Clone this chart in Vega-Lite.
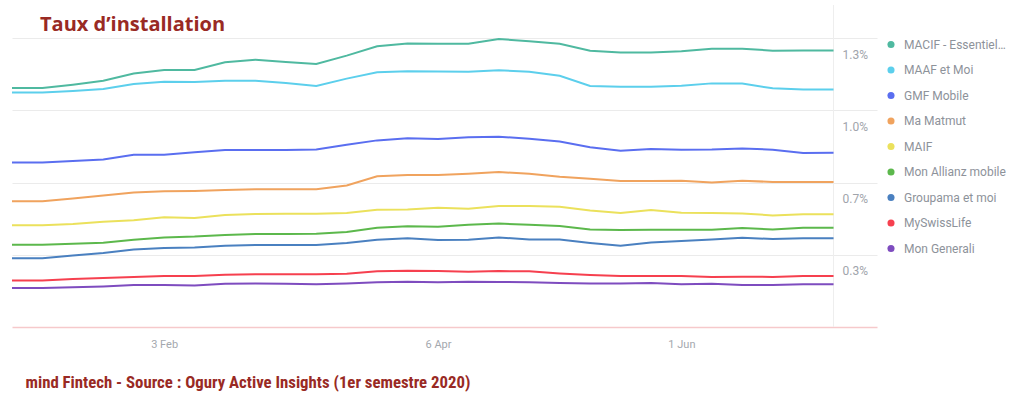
{
  "$schema": "https://vega.github.io/schema/vega-lite/v6.json",
  "width": 865,
  "height": 322,
  "autosize": {"type": "none"},
  "padding": {"left": 12, "top": 5, "right": 147, "bottom": 70},
  "background": "white",
  "config": {"view": {"stroke": null}},
  "title": {
    "text": "Taux d’installation",
    "anchor": "start",
    "frame": "group",
    "orient": "top",
    "font": "Open Sans",
    "fontWeight": "bold",
    "fontSize": 20,
    "color": "#992a24",
    "baseline": "alphabetic",
    "offset": 0,
    "dx": 28,
    "dy": 46
  },
  "data": {
    "values": [
      {"date": "2019-12-30", "MACIF - Essentiel & moi": 1.103, "MAAF et Moi": 1.082, "GMF Mobile": 0.759, "Ma Matmut": 0.580, "MAIF": 0.469, "Mon Allianz mobile": 0.380, "Groupama et moi": 0.317, "MySwissLife": 0.215, "Mon Generali": 0.180},
      {"date": "2020-01-06", "MACIF - Essentiel & moi": 1.103, "MAAF et Moi": 1.082, "GMF Mobile": 0.759, "Ma Matmut": 0.580, "MAIF": 0.469, "Mon Allianz mobile": 0.380, "Groupama et moi": 0.317, "MySwissLife": 0.215, "Mon Generali": 0.180},
      {"date": "2020-01-13", "MACIF - Essentiel & moi": 1.118, "MAAF et Moi": 1.089, "GMF Mobile": 0.766, "Ma Matmut": 0.593, "MAIF": 0.475, "Mon Allianz mobile": 0.384, "Groupama et moi": 0.330, "MySwissLife": 0.222, "Mon Generali": 0.183},
      {"date": "2020-01-20", "MACIF - Essentiel & moi": 1.136, "MAAF et Moi": 1.098, "GMF Mobile": 0.773, "Ma Matmut": 0.607, "MAIF": 0.486, "Mon Allianz mobile": 0.389, "Groupama et moi": 0.341, "MySwissLife": 0.226, "Mon Generali": 0.187},
      {"date": "2020-01-27", "MACIF - Essentiel & moi": 1.170, "MAAF et Moi": 1.121, "GMF Mobile": 0.795, "Ma Matmut": 0.621, "MAIF": 0.492, "Mon Allianz mobile": 0.403, "Groupama et moi": 0.357, "MySwissLife": 0.231, "Mon Generali": 0.194},
      {"date": "2020-02-03", "MACIF - Essentiel & moi": 1.186, "MAAF et Moi": 1.132, "GMF Mobile": 0.795, "Ma Matmut": 0.626, "MAIF": 0.506, "Mon Allianz mobile": 0.413, "Groupama et moi": 0.365, "MySwissLife": 0.235, "Mon Generali": 0.194},
      {"date": "2020-02-10", "MACIF - Essentiel & moi": 1.186, "MAAF et Moi": 1.130, "GMF Mobile": 0.806, "Ma Matmut": 0.628, "MAIF": 0.503, "Mon Allianz mobile": 0.417, "Groupama et moi": 0.367, "MySwissLife": 0.235, "Mon Generali": 0.191},
      {"date": "2020-02-17", "MACIF - Essentiel & moi": 1.221, "MAAF et Moi": 1.136, "GMF Mobile": 0.817, "Ma Matmut": 0.632, "MAIF": 0.517, "Mon Allianz mobile": 0.425, "Groupama et moi": 0.375, "MySwissLife": 0.241, "Mon Generali": 0.200},
      {"date": "2020-02-24", "MACIF - Essentiel & moi": 1.233, "MAAF et Moi": 1.136, "GMF Mobile": 0.817, "Ma Matmut": 0.635, "MAIF": 0.521, "Mon Allianz mobile": 0.429, "Groupama et moi": 0.378, "MySwissLife": 0.243, "Mon Generali": 0.201},
      {"date": "2020-03-02", "MACIF - Essentiel & moi": 1.223, "MAAF et Moi": 1.126, "GMF Mobile": 0.817, "Ma Matmut": 0.635, "MAIF": 0.523, "Mon Allianz mobile": 0.429, "Groupama et moi": 0.378, "MySwissLife": 0.243, "Mon Generali": 0.200},
      {"date": "2020-03-09", "MACIF - Essentiel & moi": 1.213, "MAAF et Moi": 1.112, "GMF Mobile": 0.819, "Ma Matmut": 0.635, "MAIF": 0.523, "Mon Allianz mobile": 0.430, "Groupama et moi": 0.378, "MySwissLife": 0.243, "Mon Generali": 0.197},
      {"date": "2020-03-16", "MACIF - Essentiel & moi": 1.252, "MAAF et Moi": 1.146, "GMF Mobile": 0.841, "Ma Matmut": 0.653, "MAIF": 0.526, "Mon Allianz mobile": 0.438, "Groupama et moi": 0.388, "MySwissLife": 0.246, "Mon Generali": 0.201},
      {"date": "2020-03-23", "MACIF - Essentiel & moi": 1.295, "MAAF et Moi": 1.175, "GMF Mobile": 0.861, "Ma Matmut": 0.695, "MAIF": 0.541, "Mon Allianz mobile": 0.458, "Groupama et moi": 0.403, "MySwissLife": 0.257, "Mon Generali": 0.206},
      {"date": "2020-03-30", "MACIF - Essentiel & moi": 1.308, "MAAF et Moi": 1.180, "GMF Mobile": 0.871, "Ma Matmut": 0.701, "MAIF": 0.542, "Mon Allianz mobile": 0.465, "Groupama et moi": 0.410, "MySwissLife": 0.260, "Mon Generali": 0.209},
      {"date": "2020-04-06", "MACIF - Essentiel & moi": 1.307, "MAAF et Moi": 1.179, "GMF Mobile": 0.867, "Ma Matmut": 0.701, "MAIF": 0.550, "Mon Allianz mobile": 0.463, "Groupama et moi": 0.401, "MySwissLife": 0.258, "Mon Generali": 0.206},
      {"date": "2020-04-13", "MACIF - Essentiel & moi": 1.307, "MAAF et Moi": 1.178, "GMF Mobile": 0.875, "Ma Matmut": 0.707, "MAIF": 0.546, "Mon Allianz mobile": 0.472, "Groupama et moi": 0.403, "MySwissLife": 0.255, "Mon Generali": 0.209},
      {"date": "2020-04-20", "MACIF - Essentiel & moi": 1.329, "MAAF et Moi": 1.184, "GMF Mobile": 0.878, "Ma Matmut": 0.715, "MAIF": 0.558, "Mon Allianz mobile": 0.477, "Groupama et moi": 0.413, "MySwissLife": 0.258, "Mon Generali": 0.208},
      {"date": "2020-04-27", "MACIF - Essentiel & moi": 1.318, "MAAF et Moi": 1.178, "GMF Mobile": 0.869, "Ma Matmut": 0.707, "MAIF": 0.558, "Mon Allianz mobile": 0.472, "Groupama et moi": 0.404, "MySwissLife": 0.257, "Mon Generali": 0.206},
      {"date": "2020-05-04", "MACIF - Essentiel & moi": 1.307, "MAAF et Moi": 1.159, "GMF Mobile": 0.856, "Ma Matmut": 0.693, "MAIF": 0.555, "Mon Allianz mobile": 0.466, "Groupama et moi": 0.404, "MySwissLife": 0.247, "Mon Generali": 0.203},
      {"date": "2020-05-11", "MACIF - Essentiel & moi": 1.275, "MAAF et Moi": 1.112, "GMF Mobile": 0.829, "Ma Matmut": 0.684, "MAIF": 0.538, "Mon Allianz mobile": 0.450, "Groupama et moi": 0.388, "MySwissLife": 0.240, "Mon Generali": 0.201},
      {"date": "2020-05-18", "MACIF - Essentiel & moi": 1.266, "MAAF et Moi": 1.109, "GMF Mobile": 0.813, "Ma Matmut": 0.674, "MAIF": 0.526, "Mon Allianz mobile": 0.448, "Groupama et moi": 0.375, "MySwissLife": 0.235, "Mon Generali": 0.201},
      {"date": "2020-05-25", "MACIF - Essentiel & moi": 1.266, "MAAF et Moi": 1.109, "GMF Mobile": 0.821, "Ma Matmut": 0.674, "MAIF": 0.540, "Mon Allianz mobile": 0.449, "Groupama et moi": 0.390, "MySwissLife": 0.235, "Mon Generali": 0.203},
      {"date": "2020-06-01", "MACIF - Essentiel & moi": 1.272, "MAAF et Moi": 1.113, "GMF Mobile": 0.818, "Ma Matmut": 0.675, "MAIF": 0.527, "Mon Allianz mobile": 0.449, "Groupama et moi": 0.397, "MySwissLife": 0.235, "Mon Generali": 0.197},
      {"date": "2020-06-08", "MACIF - Essentiel & moi": 1.284, "MAAF et Moi": 1.124, "GMF Mobile": 0.819, "Ma Matmut": 0.667, "MAIF": 0.526, "Mon Allianz mobile": 0.449, "Groupama et moi": 0.404, "MySwissLife": 0.231, "Mon Generali": 0.200},
      {"date": "2020-06-15", "MACIF - Essentiel & moi": 1.284, "MAAF et Moi": 1.123, "GMF Mobile": 0.824, "Ma Matmut": 0.675, "MAIF": 0.524, "Mon Allianz mobile": 0.457, "Groupama et moi": 0.412, "MySwissLife": 0.232, "Mon Generali": 0.194},
      {"date": "2020-06-22", "MACIF - Essentiel & moi": 1.275, "MAAF et Moi": 1.101, "GMF Mobile": 0.818, "Ma Matmut": 0.669, "MAIF": 0.515, "Mon Allianz mobile": 0.450, "Groupama et moi": 0.406, "MySwissLife": 0.231, "Mon Generali": 0.194},
      {"date": "2020-06-29", "MACIF - Essentiel & moi": 1.276, "MAAF et Moi": 1.096, "GMF Mobile": 0.803, "Ma Matmut": 0.669, "MAIF": 0.520, "Mon Allianz mobile": 0.458, "Groupama et moi": 0.409, "MySwissLife": 0.235, "Mon Generali": 0.197},
      {"date": "2020-07-06", "MACIF - Essentiel & moi": 1.276, "MAAF et Moi": 1.096, "GMF Mobile": 0.804, "Ma Matmut": 0.669, "MAIF": 0.520, "Mon Allianz mobile": 0.458, "Groupama et moi": 0.409, "MySwissLife": 0.235, "Mon Generali": 0.197}
    ]
  },
  "layer": [
    {
      "mark": {"type": "rule", "color": "#eeeeee", "strokeWidth": 1},
      "encoding": {"x": {"datum": {"year": 2020, "month": 7, "date": 6, "utc": true}, "type": "temporal"}}
    },
    {
      "transform": [
        {"fold": ["MACIF - Essentiel & moi", "MAAF et Moi", "GMF Mobile", "Ma Matmut", "MAIF", "Mon Allianz mobile", "Groupama et moi", "MySwissLife", "Mon Generali"], "as": ["app", "taux"]}
      ],
      "mark": {"type": "line", "strokeWidth": 2, "interpolate": "linear"},
      "encoding": {
        "x": {
          "field": "date",
          "type": "temporal",
          "scale": {"type": "utc", "domain": [{"year": 2019, "month": 12, "date": 30, "utc": true}, {"year": 2020, "month": 7, "date": 16, "utc": true}]},
          "axis": {
            "values": [{"year": 2020, "month": 2, "date": 3, "utc": true}, {"year": 2020, "month": 4, "date": 6, "utc": true}, {"year": 2020, "month": 6, "date": 1, "utc": true}],
            "labelExpr": "utcFormat(datum.value, '%-d %b')",
            "grid": false,
            "ticks": false,
            "domain": true,
            "domainColor": "#f6c9cb",
            "domainWidth": 1.5,
            "labelFont": "Roboto",
            "labelFontSize": 11,
            "labelColor": "#a4a8ae",
            "labelPadding": 11,
            "title": "mind Fintech - Source : Ogury Active Insights (1er semestre 2020)",
            "titleFont": "'Liberation Sans Narrow', 'Roboto Condensed', Lato",
            "titleFontWeight": "bold",
            "titleFontSize": 16.8,
            "titleColor": "#992a24",
            "titleAnchor": "start",
            "titleAlign": "left",
            "titleBaseline": "middle",
            "titleX": 13,
            "titleY": 55
          }
        },
        "y": {
          "field": "taux",
          "type": "quantitative",
          "scale": {"domain": [0, 1.4856], "nice": false, "zero": true},
          "axis": {
            "orient": "right",
            "values": [0.33333, 0.66667, 1, 1.33333],
            "labelExpr": "format(datum.value, '.1f') + '%'",
            "grid": true,
            "gridColor": "#ebebeb",
            "gridWidth": 1,
            "domain": false,
            "ticks": false,
            "labelFont": "Roboto",
            "labelFontSize": 12,
            "labelColor": "#a0a4ab",
            "labelAlign": "left",
            "labelBaseline": "middle",
            "labelPadding": -35,
            "labelOffset": 16,
            "title": null
          }
        },
        "color": {
          "field": "app",
          "type": "nominal",
          "scale": {
            "domain": ["MACIF - Essentiel & moi", "MAAF et Moi", "GMF Mobile", "Ma Matmut", "MAIF", "Mon Allianz mobile", "Groupama et moi", "MySwissLife", "Mon Generali"],
            "range": ["#4fb9a0", "#5ccfec", "#5a6ef0", "#f0a35e", "#ebe15c", "#5cb84c", "#4a80c0", "#f6404f", "#7e4cbf"]
          },
          "legend": {
            "orient": "none",
            "legendX": 873,
            "legendY": 33.5,
            "title": null,
            "padding": 0,
            "symbolType": "circle",
            "symbolSize": 50,
            "symbolStrokeWidth": 0,
            "labelFont": "Roboto",
            "labelFontSize": 12,
            "labelColor": "#8d929a",
            "labelOffset": 7,
            "labelLimit": 104,
            "rowPadding": 13.5,
            "encode": {"symbols": {"update": {"fill": {"scale": "color", "field": "value"}, "stroke": {"value": "transparent"}}}}
          }
        }
      }
    }
  ]
}
